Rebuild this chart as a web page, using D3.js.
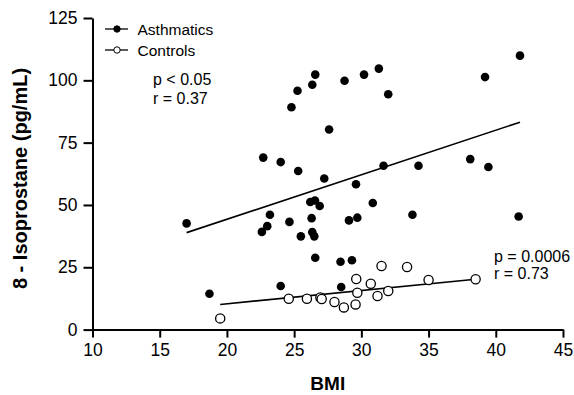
<!DOCTYPE html>
<html><head><meta charset="utf-8">
<script src="https://cdn.jsdelivr.net/npm/d3@7"></script>
<style>body{margin:0;background:#fff}svg{display:block;font-family:Arial,"Liberation Sans",Helvetica,sans-serif}</style>
</head><body><svg id="c" width="574" height="395"></svg>
<script>
const asthmaticsBMI = [17.0,18.7,22.6,23.0,23.2,22.7,24.0,24.0,24.65,24.8,25.25,25.3,25.5,26.2,26.55,26.9,26.3,26.35,26.5,26.57,26.35,26.57,27.6,27.24,28.75,28.45,29.3,28.5,29.08,29.7,29.6,30.2,31.3,32.0,30.85,31.65,33.8,34.25,38.1,39.45,39.2,41.8,41.7];
const asthmaticsIso = [42.6,14.4,39.2,41.5,46.1,69.0,67.2,17.5,43.2,89.2,95.8,63.6,37.4,51.2,51.8,49.6,44.7,39.1,37.4,28.8,98.2,102.3,80.3,60.6,99.8,27.2,27.8,17.1,43.8,44.9,58.3,102.3,104.7,94.4,50.8,65.7,46.1,65.7,68.4,65.2,101.3,109.9,45.4];
const controlsBMI = [19.5,24.6,25.95,26.95,27.05,28.0,28.7,29.57,29.7,29.62,30.7,31.2,32.0,31.5,33.4,35.0,38.5];
const controlsIso = [4.5,12.4,12.4,12.9,12.3,11.1,8.9,10.1,14.8,20.3,18.4,13.5,15.5,25.5,25.1,19.9,20.2];
const asthmaticsFit = [[17.0,38.9],[41.8,83.2]];
const controlsFit = [[19.5,10.1],[38.5,20.2]];
const xTicks = [10,15,20,25,30,35,40,45];
const yTicks = [0,25,50,75,100,125];

const svg = d3.select("#c");
const x = d3.scaleLinear().domain([10,45]).range([92.5,563]);
const y = d3.scaleLinear().domain([0,125]).range([329.6,18]);

// axes
const xa = svg.append("g").attr("transform","translate(0,329.6)")
  .call(d3.axisBottom(x).tickValues(xTicks).tickSize(8).tickPadding(6).tickSizeOuter(0));
const ya = svg.append("g").attr("transform","translate(92.5,0)")
  .call(d3.axisLeft(y).tickValues(yTicks).tickSize(9).tickPadding(6).tickSizeOuter(0));
[xa,ya].forEach(a=>{
  a.select(".domain").attr("stroke","#000").attr("stroke-width",2);
  a.selectAll(".tick line").attr("stroke","#000").attr("stroke-width",2);
  a.selectAll("text").attr("font-size","17.5px").attr("fill","#000").attr("font-family",'Arial,"Liberation Sans",sans-serif');
});
xa.selectAll("text").attr("dy","0.71em");

// fit lines
const line = d3.line().x(d=>x(d[0])).y(d=>y(d[1]));
svg.append("path").attr("d",line(asthmaticsFit)).attr("stroke","#000").attr("stroke-width",1.6).attr("fill","none");
svg.append("path").attr("d",line(controlsFit)).attr("stroke","#000").attr("stroke-width",1.6).attr("fill","none");

// points
svg.append("g").selectAll("circle").data(asthmaticsBMI).join("circle")
  .attr("cx",d=>x(d)).attr("cy",(d,i)=>y(asthmaticsIso[i])).attr("r",4.3).attr("fill","#000");
svg.append("g").selectAll("circle").data(controlsBMI).join("circle")
  .attr("cx",d=>x(d)).attr("cy",(d,i)=>y(controlsIso[i])).attr("r",4.6).attr("fill","#fff").attr("stroke","#000").attr("stroke-width",1.3);

// legend
const leg = [{label:"Asthmatics",fill:"#000",yy:29},{label:"Controls",fill:"#fff",yy:50}];
leg.forEach(l=>{
  svg.append("line").attr("x1",105).attr("x2",128).attr("y1",l.yy).attr("y2",l.yy).attr("stroke","#000").attr("stroke-width",1.3);
  svg.append("circle").attr("cx",117).attr("cy",l.yy).attr("r",3.2).attr("fill",l.fill).attr("stroke","#000").attr("stroke-width",1);
  svg.append("text").attr("x",137.5).attr("y",l.yy+5.5).attr("font-size","15.5px").text(l.label);
});

// annotations
const ann = [["p < 0.05",153,85],["r = 0.37",153,103.5],["p = 0.0006",494,261.5],["r = 0.73",494,279]];
ann.forEach(a=>svg.append("text").attr("x",a[1]).attr("y",a[2]).attr("font-size","16px").text(a[0]));

// axis titles
svg.append("text").attr("x",x(27.5)).attr("y",390).attr("text-anchor","middle").attr("font-size","19px").attr("font-weight","bold").text("BMI");
svg.append("text").attr("transform","translate(27,178.5) rotate(-90)").attr("text-anchor","middle").attr("font-size","20px").attr("font-weight","bold").text("8 - Isoprostane (pg/mL)");
</script></body></html>
